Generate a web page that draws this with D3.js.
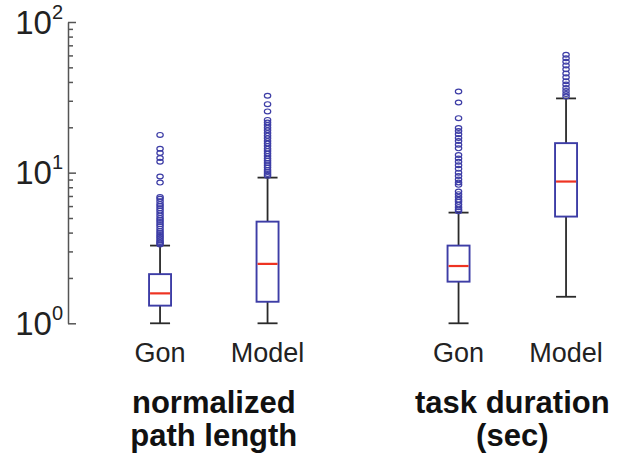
<!DOCTYPE html>
<html>
<head>
<meta charset="utf-8">
<script src="https://cdn.jsdelivr.net/npm/d3@7"></script>
<style>
  html, body { margin: 0; padding: 0; background: #fff; }
  svg { display: block; font-family: "Liberation Sans", Arial, sans-serif; }
</style>
</head>
<body>
<svg id="chart" width="627" height="460"></svg>
<script>
// ---- data ----
const groups = ["normalized path length", "task duration (sec)"];
const groupTitleLines = [["normalized", "path length"], ["task duration", "(sec)"]];
const categories = ["Gon", "Model"];
const yTickExponents = [0, 1, 2];

// per box: group index, category, lower whisker, Q1, median, Q3, upper whisker
const boxGroup = [0, 0, 1, 1];
const boxCategory = ["Gon", "Model", "Gon", "Model"];
const lowerWhisker = [1.0, 1.0, 1.0, 1.5];
const q1 = [1.31, 1.39, 1.89, 5.11];
const median = [1.58, 2.48, 2.40, 8.73];
const q3 = [2.12, 4.73, 3.28, 15.7];
const upperWhisker = [3.28, 9.27, 5.43, 31.1];

const outliersGon1 = [17.8, 14.4, 13.5, 12.5, 11.8, 9.42, 8.59,
  6.9, 6.7, 6.45, 6.2, 6.0, 5.8, 5.6, 5.4, 5.2, 5.0, 4.85, 4.7, 4.55, 4.4, 4.25,
  4.1, 3.97, 3.85, 3.75, 3.65, 3.55, 3.47, 3.4, 3.34];
const outliersModel1 = [32.4, 28.5, 25.5, 22.4, 21.5, 20.7, 19.9, 19.1, 18.3, 17.6,
  16.9, 16.2, 15.6, 15.0, 14.4, 13.9, 13.4, 12.9, 12.4, 12.0, 11.6, 11.2, 10.8,
  10.4, 10.1, 9.8, 9.55];
const outliersGon2 = [34.6, 29.2, 23.0, 19.8, 18.9, 18.0, 17.0, 16.2, 15.3, 14.5,
  13.1, 12.4, 11.8, 11.2, 10.6, 10.0, 9.5, 9.0, 8.6, 8.3, 7.5, 7.2, 6.9, 6.6,
  6.4, 6.15, 5.9, 5.7, 5.55];
const outliersModel2 = [60.6, 57.5, 54.5, 51.5, 48.5, 45.5, 43, 40.5, 38.5, 36.5,
  34.8, 33.3, 32.0];
const outliers = [outliersGon1, outliersModel1, outliersGon2, outliersModel2];

// ---- layout ----
const svg = d3.select("#chart");
const boxColor = "#3d3da6";
const medianColor = "#ee3322";
const whiskerColor = "#2a2a2a";
const axisColor = "#555555";
const boxWidth = 22;
const capWidth = 20;

const y = d3.scaleLog().domain([1, 100]).range([323.3, 22]);
const xGroup = d3.scalePoint().domain(groups).range([213.8, 512.3]);
const xCat = d3.scalePoint().domain(categories).range([-53.75, 53.75]);
const cx = i => xGroup(groups[boxGroup[i]]) + xCat(boxCategory[i]);

// ---- y axis (ticks inward) ----
const axisX = 68;
const majorVals = yTickExponents.map(e => Math.pow(10, e));
const minorVals = [];
for (let d = 0; d < 2; d++) for (let k = 2; k <= 9; k++) minorVals.push(k * Math.pow(10, d));

const gMajor = svg.append("g").attr("transform", `translate(${axisX},0)`)
  .call(d3.axisRight(y).tickValues(majorVals).tickSize(8).tickSizeOuter(0).tickFormat(""));
const gMinor = svg.append("g").attr("transform", `translate(${axisX},0)`)
  .call(d3.axisRight(y).tickValues(minorVals).tickSize(5).tickSizeOuter(0).tickFormat(""));
gMinor.select(".domain").remove();
[gMajor, gMinor].forEach(g => {
  g.selectAll("line").attr("stroke", axisColor).attr("stroke-width", 1.5);
  g.select(".domain").attr("stroke", axisColor).attr("stroke-width", 1.5);
});

// tick labels 10^e
yTickExponents.forEach(e => {
  const t = svg.append("text")
    .attr("x", 63)
    .attr("y", y(Math.pow(10, e)) + 11.5)
    .attr("text-anchor", "end")
    .attr("fill", "#222");
  t.append("tspan").attr("font-size", 33).text("10");
  t.append("tspan").attr("font-size", 20).attr("dy", -15).text(String(e));
});

// ---- boxes ----
const idx = d3.range(boxCategory.length);
const gBoxes = svg.append("g");
idx.forEach(i => {
  const x = cx(i);
  const g = gBoxes.append("g");
  g.append("line").attr("x1", x).attr("x2", x).attr("y1", y(q3[i])).attr("y2", y(upperWhisker[i]))
    .attr("stroke", whiskerColor).attr("stroke-width", 1.8);
  g.append("line").attr("x1", x).attr("x2", x).attr("y1", y(q1[i])).attr("y2", y(lowerWhisker[i]))
    .attr("stroke", whiskerColor).attr("stroke-width", 1.8);
  [upperWhisker[i], lowerWhisker[i]].forEach(v => {
    g.append("line").attr("x1", x - capWidth / 2).attr("x2", x + capWidth / 2)
      .attr("y1", y(v)).attr("y2", y(v))
      .attr("stroke", whiskerColor).attr("stroke-width", 1.8);
  });
  g.append("rect").attr("x", x - boxWidth / 2).attr("width", boxWidth)
    .attr("y", y(q3[i])).attr("height", y(q1[i]) - y(q3[i]))
    .attr("fill", "none").attr("stroke", boxColor).attr("stroke-width", 1.9);
  g.append("line").attr("x1", x - boxWidth / 2 + 1).attr("x2", x + boxWidth / 2 - 1)
    .attr("y1", y(median[i])).attr("y2", y(median[i]))
    .attr("stroke", medianColor).attr("stroke-width", 2.2);
  g.selectAll("ellipse").data(outliers[i]).join("ellipse")
    .attr("cx", x).attr("cy", v => y(v))
    .attr("rx", 3.2).attr("ry", 2.4)
    .attr("fill", "none").attr("stroke", boxColor).attr("stroke-width", 1.2);
  svg.append("text").attr("x", x).attr("y", 362).attr("text-anchor", "middle")
    .attr("font-size", 27).attr("fill", "#222").text(boxCategory[i]);
});

// ---- group titles ----
groups.forEach((gname, gi) => {
  const t = svg.append("text").attr("text-anchor", "middle")
    .attr("font-size", 31).attr("font-weight", "bold").attr("fill", "#111");
  groupTitleLines[gi].forEach((line, li) => {
    t.append("tspan").attr("x", xGroup(gname)).attr("y", 413 + li * 33).text(line);
  });
});
</script>
</body>
</html>
